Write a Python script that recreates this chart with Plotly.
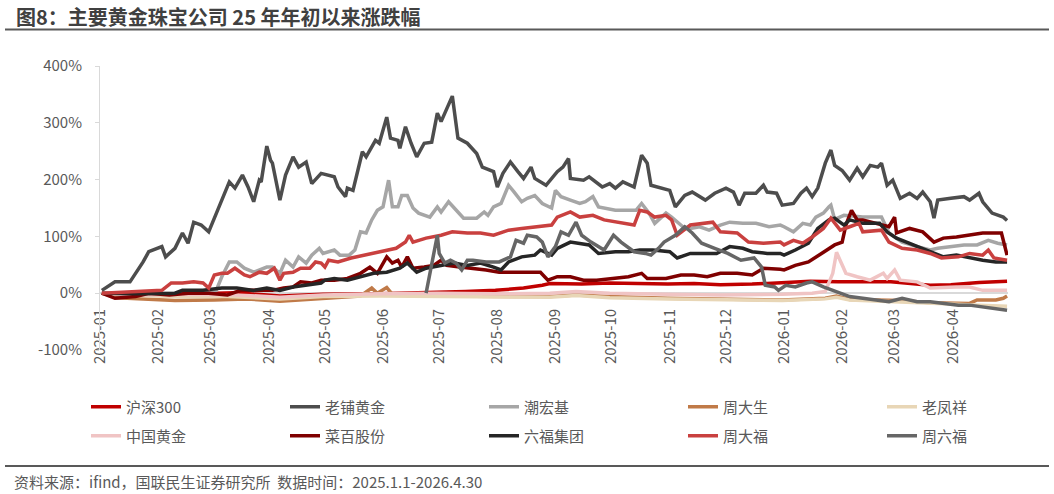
import plotly.graph_objects as go

# ---------------- data (percent change since 2025-01-01) ----------------
hs300 = [("2025-01-02",0),("2025-01-13",-5),("2025-01-27",-3),("2025-02-14",-1),("2025-03-14",1),
 ("2025-04-07",-5),("2025-04-30",-2),("2025-05-30",-1),("2025-06-30",1),("2025-07-15",3),("2025-07-31",5),
 ("2025-08-15",9),("2025-08-25",14),("2025-08-29",17),("2025-09-15",16),("2025-09-30",18),("2025-10-15",17),
 ("2025-10-31",16),("2025-11-14",17),("2025-11-28",15),("2025-12-15",16),("2025-12-31",18),("2026-01-15",21),
 ("2026-01-30",20),("2026-02-27",20),("2026-03-20",14),("2026-03-31",15),("2026-04-15",19),("2026-04-30",21)]

laopu = [("2025-01-02",5),("2025-01-09",20),("2025-01-17",20),("2025-01-21",40),("2025-01-24",55),
 ("2025-01-27",73),("2025-02-03",82),("2025-02-05",64),("2025-02-10",79),("2025-02-14",106),("2025-02-17",88),
 ("2025-02-20",125),("2025-02-24",120),("2025-02-28",108),("2025-03-06",158),("2025-03-11",196),("2025-03-14",185),
 ("2025-03-18",208),("2025-03-21",187),("2025-03-24",161),("2025-03-27",199),("2025-03-28",196),("2025-03-31",259),
 ("2025-04-02",234),("2025-04-03",229),("2025-04-07",164),("2025-04-10",208),("2025-04-14",240),("2025-04-17",222),
 ("2025-04-21",231),("2025-04-24",193),("2025-04-29",211),("2025-05-06",205),("2025-05-08",187),("2025-05-12",170),
 ("2025-05-13",185),("2025-05-16",181),("2025-05-21",249),("2025-05-23",240),("2025-05-28",269),("2025-05-30",264),
 ("2025-06-03",310),("2025-06-05",273),("2025-06-09",269),("2025-06-10",255),("2025-06-13",293),("2025-06-16",264),
 ("2025-06-19",240),("2025-06-23",264),("2025-06-27",266),("2025-06-30",317),("2025-07-02",302),("2025-07-04",317),
 ("2025-07-08",347),("2025-07-11",273),("2025-07-16",264),("2025-07-21",246),("2025-07-24",222),("2025-07-30",214),
 ("2025-08-01",187),("2025-08-04",211),("2025-08-08",231),("2025-08-12",214),("2025-08-15",202),("2025-08-19",222),
 ("2025-08-21",202),("2025-08-27",190),("2025-09-02",214),("2025-09-05",222),("2025-09-08",237),("2025-09-09",202),
 ("2025-09-16",199),("2025-09-19",205),("2025-09-26",187),("2025-09-30",193),("2025-10-03",185),("2025-10-07",196),
 ("2025-10-13",187),("2025-10-17",243),("2025-10-20",229),("2025-10-22",190),("2025-10-28",185),("2025-11-01",181),
 ("2025-11-04",152),("2025-11-09",172),("2025-11-13",178),("2025-11-20",164),("2025-11-25",176),("2025-12-01",185),
 ("2025-12-05",178),("2025-12-08",155),("2025-12-11",176),("2025-12-17",176),("2025-12-21",190),("2025-12-23",178),
 ("2025-12-28",176),("2025-12-31",155),("2026-01-06",158),("2026-01-10",176),("2026-01-13",185),("2026-01-16",170),
 ("2026-01-19",185),("2026-01-23",229),("2026-01-26",252),("2026-01-28",225),("2026-02-01",216),("2026-02-05",199),
 ("2026-02-09",220),("2026-02-12",205),("2026-02-16",225),("2026-02-20",222),("2026-02-22",229),("2026-02-25",190),
 ("2026-02-28",199),("2026-03-04",167),("2026-03-09",176),("2026-03-13",167),("2026-03-16",178),("2026-03-20",161),
 ("2026-03-22",132),("2026-03-24",164),("2026-03-31",167),("2026-04-07",170),("2026-04-10",164),("2026-04-15",176),
 ("2026-04-17",161),("2026-04-22",141),("2026-04-28",134),("2026-04-30",128)]

chaohongji = [("2025-01-02",0),("2025-01-08",-4),("2025-01-20",-2),("2025-02-10",0),("2025-02-25",3),
 ("2025-03-04",5),("2025-03-07",29),("2025-03-11",55),("2025-03-15",55),("2025-03-19",44),("2025-03-24",37),
 ("2025-03-31",46),("2025-04-03",46),("2025-04-07",35),("2025-04-10",58),("2025-04-14",46),("2025-04-17",64),
 ("2025-04-21",53),("2025-04-24",67),("2025-04-28",79),("2025-04-30",70),("2025-05-06",76),("2025-05-09",67),
 ("2025-05-14",67),("2025-05-17",76),("2025-05-20",108),("2025-05-23",106),("2025-05-26",129),("2025-05-29",146),
 ("2025-06-01",152),("2025-06-04",199),("2025-06-06",152),("2025-06-09",152),("2025-06-11",172),("2025-06-14",172),
 ("2025-06-17",150),("2025-06-20",141),("2025-06-26",134),("2025-06-30",152),("2025-07-02",143),("2025-07-06",161),
 ("2025-07-10",146),("2025-07-14",132),("2025-07-21",132),("2025-07-25",143),("2025-07-27",137),("2025-07-30",152),
 ("2025-08-03",158),("2025-08-07",190),("2025-08-10",178),("2025-08-14",161),("2025-08-17",167),("2025-08-21",172),
 ("2025-08-25",158),("2025-08-30",150),("2025-09-01",181),("2025-09-04",170),("2025-09-09",164),("2025-09-14",158),
 ("2025-09-17",161),("2025-09-21",170),("2025-09-24",152),("2025-10-03",146),("2025-10-14",146),("2025-10-17",158),
 ("2025-10-21",141),("2025-10-24",123),("2025-10-30",141),("2025-11-02",134),("2025-11-08",117),("2025-11-12",114),
 ("2025-11-17",117),("2025-11-22",111),("2025-11-28",120),("2025-12-03",125),("2025-12-10",123),("2025-12-17",123),
 ("2025-12-24",117),("2025-12-30",120),("2026-01-01",117),("2026-01-06",108),("2026-01-11",123),("2026-01-15",120),
 ("2026-01-18",134),("2026-01-22",141),("2026-01-25",152),("2026-01-26",155),("2026-01-28",130),("2026-02-02",137),
 ("2026-02-12",134),("2026-02-22",134),("2026-02-26",106),("2026-03-05",90),("2026-03-13",82),("2026-03-20",76),
 ("2026-03-24",79),("2026-03-31",82),("2026-04-07",85),("2026-04-14",85),("2026-04-20",93),("2026-04-25",88),
 ("2026-04-30",85)]

zhoudasheng = [("2025-01-02",0),("2025-01-10",-8),("2025-01-24",-10),("2025-02-10",-13),("2025-03-03",-12),
 ("2025-03-20",-10),("2025-04-07",-14),("2025-04-30",-9),("2025-05-20",-5),("2025-05-26",9),("2025-05-29",0),
 ("2025-06-03",10),("2025-06-06",-2),("2025-06-30",-5),("2025-07-31",-6),("2025-08-29",-6),("2025-09-12",-3),
 ("2025-09-30",-6),("2025-10-31",-9),("2025-11-28",-11),("2025-12-31",-12),("2026-01-23",-9),("2026-01-29",-5),
 ("2026-02-05",-11),("2026-03-05",-13),("2026-03-20",-17),("2026-04-10",-18),("2026-04-14",-12),("2026-04-24",-12),
 ("2026-04-28",-9),("2026-04-30",-5)]

laofengxiang = [("2025-01-02",0),("2025-01-20",-4),("2025-02-14",-6),("2025-03-10",-6),("2025-04-07",-10),
 ("2025-04-30",-6),("2025-05-30",-5),("2025-06-30",-6),("2025-07-31",-7),("2025-08-29",-7),("2025-09-12",-4),
 ("2025-09-30",-8),("2025-10-31",-10),("2025-11-28",-12),("2025-12-31",-13),("2026-01-23",-10),("2026-01-29",-7),
 ("2026-02-05",-12),("2026-03-05",-15),("2026-03-31",-19),("2026-04-15",-21),("2026-04-30",-23)]

zhongguohuangjin = [("2025-01-02",0),("2025-01-20",-3),("2025-02-14",-2),("2025-03-14",-3),("2025-04-07",-7),
 ("2025-04-30",-3),("2025-05-30",-1),("2025-06-30",0),("2025-07-31",-1),("2025-08-29",0),("2025-09-12",3),
 ("2025-09-30",0),("2025-10-31",-2),("2025-11-28",-3),("2025-12-31",-2),("2026-01-16",0),("2026-01-23",3),
 ("2026-01-27",35),("2026-01-29",72),("2026-02-02",40),("2026-02-03",35),("2026-02-09",29),("2026-02-16",23),
 ("2026-02-23",35),("2026-02-25",26),("2026-03-01",41),("2026-03-04",23),("2026-03-13",20),("2026-03-20",9),
 ("2026-04-03",11),("2026-04-10",11),("2026-04-17",5),("2026-04-30",5)]

caibai = [("2025-01-02",0),("2025-01-09",-9),("2025-01-20",-6),("2025-01-27",0),("2025-02-07",-3),("2025-02-17",0),
 ("2025-02-28",0),("2025-03-10",-3),("2025-03-17",5),("2025-03-27",5),("2025-04-03",5),("2025-04-09",9),
 ("2025-04-14",11),("2025-04-18",20),("2025-04-24",18),("2025-04-29",23),("2025-05-06",23),("2025-05-13",26),
 ("2025-05-20",35),("2025-05-25",46),("2025-05-29",35),("2025-06-03",64),("2025-06-06",53),("2025-06-09",58),
 ("2025-06-11",46),("2025-06-14",64),("2025-06-17",44),("2025-06-23",46),("2025-06-28",49),("2025-07-02",58),
 ("2025-07-05",49),("2025-07-12",46),("2025-07-19",44),("2025-07-26",41),("2025-08-02",37),("2025-08-09",37),
 ("2025-08-16",37),("2025-08-24",37),("2025-08-28",23),("2025-09-02",29),("2025-09-09",29),("2025-09-16",23),
 ("2025-09-23",23),("2025-10-03",26),("2025-10-10",29),("2025-10-17",35),("2025-10-20",26),("2025-10-30",26),
 ("2025-11-07",32),("2025-11-14",32),("2025-11-21",29),("2025-11-28",35),("2025-12-07",35),("2025-12-15",32),
 ("2025-12-21",44),("2025-12-30",42),("2026-01-01",41),("2026-01-07",49),("2026-01-14",55),("2026-01-21",70),
 ("2026-01-28",85),("2026-02-01",90),("2026-02-03",120),("2026-02-06",146),("2026-02-09",129),("2026-02-12",129),
 ("2026-02-19",123),("2026-02-26",117),("2026-03-01",134),("2026-03-02",106),("2026-03-09",114),("2026-03-16",108),
 ("2026-03-22",90),("2026-03-27",97),("2026-04-03",99),("2026-04-10",102),("2026-04-17",106),("2026-04-27",106),
 ("2026-04-30",67)]

liufu = [("2025-01-02",0),("2025-01-20",-1),("2025-02-10",0),("2025-02-14",5),("2025-02-25",5),("2025-03-07",9),
 ("2025-03-15",9),("2025-03-24",5),("2025-03-31",9),("2025-04-07",5),("2025-04-14",11),("2025-04-21",14),
 ("2025-04-29",18),("2025-05-01",23),("2025-05-06",26),("2025-05-13",23),("2025-05-20",29),("2025-05-27",35),
 ("2025-06-03",37),("2025-06-10",44),("2025-06-14",53),("2025-06-19",37),("2025-06-24",44),("2025-07-02",49),
 ("2025-07-09",53),("2025-07-16",49),("2025-07-23",53),("2025-07-30",46),("2025-08-03",41),("2025-08-07",55),
 ("2025-08-14",64),("2025-08-21",67),("2025-08-24",76),("2025-08-30",67),("2025-09-02",79),("2025-09-09",90),
 ("2025-09-14",88),("2025-09-19",85),("2025-09-24",70),("2025-10-03",73),("2025-10-10",73),("2025-10-16",76),
 ("2025-10-23",76),("2025-11-01",73),("2025-11-05",62),("2025-11-12",70),("2025-11-19",70),("2025-11-26",70),
 ("2025-12-03",82),("2025-12-10",79),("2025-12-15",73),("2025-12-23",70),("2025-12-30",70),("2026-01-01",67),
 ("2026-01-07",76),("2026-01-14",88),("2026-01-19",114),("2026-01-25",129),("2026-01-28",132),("2026-02-02",120),
 ("2026-02-05",129),("2026-02-12",123),("2026-02-21",123),("2026-02-25",108),("2026-03-02",97),("2026-03-09",88),
 ("2026-03-16",79),("2026-03-22",70),("2026-03-27",64),("2026-04-03",67),("2026-04-10",62),("2026-04-17",58),
 ("2026-04-24",55),("2026-04-30",55)]

zhoudafu = [("2025-01-02",0),("2025-01-20",2),("2025-02-03",5),("2025-02-08",18),("2025-02-14",18),("2025-02-20",20),
 ("2025-02-25",18),("2025-02-28",9),("2025-03-03",32),("2025-03-07",35),("2025-03-10",35),("2025-03-14",44),
 ("2025-03-19",32),("2025-03-22",29),("2025-03-27",37),("2025-03-31",35),("2025-04-04",44),("2025-04-07",23),
 ("2025-04-09",35),("2025-04-14",37),("2025-04-18",44),("2025-04-23",44),("2025-04-26",55),("2025-04-29",53),
 ("2025-05-01",46),("2025-05-03",58),("2025-05-08",55),("2025-05-15",62),("2025-05-22",67),("2025-05-27",70),
 ("2025-06-03",76),("2025-06-08",79),("2025-06-13",90),("2025-06-15",102),("2025-06-17",90),("2025-06-24",97),
 ("2025-07-02",102),("2025-07-08",108),("2025-07-16",106),("2025-07-23",106),("2025-07-30",102),("2025-08-07",111),
 ("2025-08-14",114),("2025-08-21",117),("2025-08-30",120),("2025-09-02",134),("2025-09-09",143),("2025-09-14",134),
 ("2025-09-21",137),("2025-09-27",129),("2025-10-04",125),("2025-10-13",120),("2025-10-16",146),("2025-10-20",143),
 ("2025-10-24",134),("2025-10-30",137),("2025-11-02",129),("2025-11-05",102),("2025-11-12",120),("2025-11-19",123),
 ("2025-11-24",125),("2025-11-28",108),("2025-12-07",106),("2025-12-13",90),("2025-12-21",88),("2025-12-30",90),
 ("2026-01-01",85),("2026-01-06",93),("2026-01-11",88),("2026-01-16",99),("2026-01-22",114),("2026-01-26",132),
 ("2026-01-31",111),("2026-02-05",117),("2026-02-10",123),("2026-02-12",108),("2026-02-19",111),("2026-02-22",111),
 ("2026-02-26",90),("2026-03-05",79),("2026-03-13",76),("2026-03-20",70),("2026-03-26",62),("2026-04-04",64),
 ("2026-04-10",70),("2026-04-17",67),("2026-04-20",76),("2026-04-23",62),("2026-04-30",58)]

zhouliufu = [("2025-06-24",0),("2025-06-30",102),("2025-07-01",70),("2025-07-04",53),("2025-07-07",58),
 ("2025-07-10",53),("2025-07-13",41),("2025-07-16",58),("2025-07-19",58),("2025-07-26",55),("2025-08-02",55),
 ("2025-08-08",64),("2025-08-11",93),("2025-08-15",88),("2025-08-17",102),("2025-08-22",99),("2025-08-25",90),
 ("2025-08-28",64),("2025-09-01",82),("2025-09-04",108),("2025-09-08",102),("2025-09-12",125),("2025-09-15",102),
 ("2025-09-20",90),("2025-09-27",76),("2025-10-02",102),("2025-10-06",90),("2025-10-13",73),("2025-10-19",70),
 ("2025-10-22",67),("2025-10-26",79),("2025-10-29",90),("2025-11-04",102),("2025-11-09",117),("2025-11-13",106),
 ("2025-11-18",88),("2025-11-25",79),("2025-12-02",70),("2025-12-09",58),("2025-12-16",62),("2025-12-20",46),
 ("2025-12-22",14),("2025-12-27",11),("2025-12-29",5),("2026-01-02",14),("2026-01-07",11),("2026-01-13",18),
 ("2026-01-16",20),("2026-01-22",11),("2026-01-29",2),("2026-02-05",-6),("2026-02-12",-9),("2026-02-19",-12),
 ("2026-02-26",-15),("2026-03-05",-9),("2026-03-13",-15),("2026-03-20",-15),("2026-03-27",-18),("2026-04-04",-21),
 ("2026-04-10",-21),("2026-04-17",-24),("2026-04-24",-26),("2026-04-30",-30)]

series_names = ["沪深300", "老铺黄金", "潮宏基", "周大生", "老凤祥",
                "中国黄金", "菜百股份", "六福集团", "周大福", "周六福"]
series_data = [hs300, laopu, chaohongji, zhoudasheng, laofengxiang,
               zhongguohuangjin, caibai, liufu, zhoudafu, zhouliufu]
series_colors = ["#c00000", "#4d4d4d", "#a6a6a6", "#c07a48", "#e8d6b6",
                 "#f0c4c4", "#7f0000", "#262626", "#c9403f", "#666666"]

y_tickvals = [-100, 0, 100, 200, 300, 400]
y_ticktext = ["-100%", "0%", "100%", "200%", "300%", "400%"]

title_text = "<b>图8：主要黄金珠宝公司 25 年年初以来涨跌幅</b>"
source_text = "资料来源：ifind，国联民生证券研究所  数据时间：2025.1.1-2026.4.30"

# ---------------- figure ----------------
FONT = "Noto Sans CJK SC"
GREY = "#595959"
W, H = 1054, 494
L, R, T, B = 100, 46, 66, 144
pw, ph = W - L - R, H - T - B

def px_x(px):
    return (px - L) / pw

def px_y(py):
    return (H - B - py) / ph

fig = go.Figure()
for i, (name, data, color) in enumerate(zip(series_names, series_data, series_colors)):
    fig.add_trace(go.Scatter(
        x=[d for d, _ in data], y=[v for _, v in data], name=name, mode="lines",
        line=dict(color=color, width=3.5),
        legend="legend" if i < 5 else "legend2",
    ))

legend_common = dict(orientation="h", xanchor="left", yanchor="middle",
                     x=px_x(86), entrywidth=154, entrywidthmode="pixels",
                     font=dict(family=FONT, size=15, color=GREY),
                     bgcolor="rgba(0,0,0,0)", borderwidth=0, itemclick=False)

fig.update_layout(
    width=W, height=H,
    margin=dict(l=L, r=R, t=T, b=B, autoexpand=False),
    paper_bgcolor="white", plot_bgcolor="white",
    font=dict(family=FONT, color=GREY),
    showlegend=True,
    legend=dict(legend_common, y=px_y(407)),
    legend2=dict(legend_common, y=px_y(436)),
    xaxis=dict(type="date", range=["2025-01-01", "2026-04-30 12:00"], dtick="M1",
               tick0="2025-01-01", tickformat="%Y-%m", tickangle=-90,
               anchor="free", position=0.2, showline=True, linecolor="#d9d9d9",
               linewidth=1.5, showgrid=False, zeroline=False, ticks="",
               ticklabelstandoff=9,
               tickfont=dict(family=FONT, size=15, color=GREY), layer="below traces"),
    yaxis=dict(range=[-100, 400], tickvals=y_tickvals, ticktext=y_ticktext,
               showline=True, linecolor="#d9d9d9", linewidth=1, showgrid=False,
               zeroline=False, ticks="outside", ticklen=4, tickcolor="#d9d9d9",
               ticklabelstandoff=10,
               tickfont=dict(family=FONT, size=15, color=GREY)),
    shapes=[
        dict(type="line", xref="paper", yref="paper", x0=px_x(5), x1=px_x(1049),
             y0=px_y(29.5), y1=px_y(29.5), line=dict(color="#595959", width=2)),
        dict(type="line", xref="paper", yref="paper", x0=px_x(5), x1=px_x(1049),
             y0=px_y(466), y1=px_y(466), line=dict(color="#595959", width=2)),
    ],
    annotations=[
        dict(text=title_text, xref="paper", yref="paper", x=px_x(14), y=px_y(17),
             xanchor="left", yanchor="middle", showarrow=False,
             font=dict(family=FONT, size=20, color="#404040")),
        dict(text=source_text, xref="paper", yref="paper", x=px_x(12), y=px_y(481),
             xanchor="left", yanchor="middle", showarrow=False,
             font=dict(family=FONT, size=15, color=GREY)),
    ],
)

fig.write_html("out.html")
